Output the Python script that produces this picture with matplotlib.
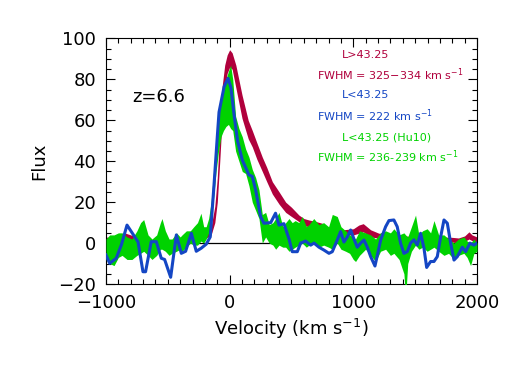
import matplotlib
matplotlib.use("Agg")
import matplotlib.pyplot as plt
from matplotlib.ticker import MultipleLocator

# ---- data ----
red_v = [-1000, -950, -900, -850, -800, -750, -700, -650, -600, -550, -500, -450,
         -400, -350, -300, -250, -200, -150, -120, -100, -80, -60, -40, -20, 0, 20,
         50, 100, 150, 183, 220, 264, 300, 345, 400, 453, 500, 560, 600, 641, 700,
         747, 790, 830, 900, 965, 1000, 1044, 1080, 1140, 1207, 1260, 1300, 1400,
         1500, 1600, 1700, 1800, 1850, 1900, 1935, 1960, 2000]
red_lo = [0.5, 0.0, 0.5, 2.5, 1.5, 0.5, -0.5, -1.0, -1.0, -1.3, -1.0, -1.0,
          -0.5, -0.5, 0.0, 1.0, 2.0, 4.0, 10, 20, 40, 62, 76, 83, 86, 85,
          76, 61, 51, 47, 41, 35, 30, 24, 19, 15, 13, 10.5, 8.5, 8.0, 7.0,
          6.4, 5.0, 3.5, 2.4, 4.0, 4.0, 4.8, 5.5, 3.0, 2.4, 2.4, 1.5, 1.0,
          0.5, 0.5, 0.5, 0.5, 0.0, 0.8, 2.0, 1.2, 0.5]
red_hi = [3.0, 2.5, 3.0, 5.0, 4.0, 3.0, 2.0, 1.5, 1.5, 1.0, 1.5, 1.5,
          2.0, 2.0, 2.5, 3.5, 5.0, 8.0, 18, 32, 55, 77, 87, 92, 94.5, 93,
          87, 72.4, 60, 55, 49, 42, 37, 30, 25, 20, 17.5, 13.7, 12, 11.3, 10.5,
          9.7, 8.0, 6.5, 6.4, 6.8, 7.0, 8.8, 9.5, 6.5, 4.8, 5.0, 4.0, 3.5,
          3.2, 3.0, 3.0, 2.8, 2.5, 3.5, 5.5, 4.0, 3.0]

green_v = [-1000, -970, -935, -900, -870, -830, -790, -750, -720, -695, -660, -628,
           -590, -560, -547, -520, -490, -466, -430, -400, -385, -350, -318, -290,
           -260, -232, -210, -190, -170, -150, -130, -110, -90, -70, -50, -30, -10,
           8, 25, 48, 75, 102, 129, 156, 183, 210, 237, 264, 291, 320, 350, 372,
           399, 430, 453, 480, 506, 530, 560, 587, 620, 641, 680, 722, 760, 800,
           830, 870, 900, 938, 970, 1000, 1018, 1050, 1099, 1140, 1180, 1220, 1261,
           1300, 1328, 1370, 1409, 1423, 1440, 1470, 1503, 1530, 1560, 1597, 1625,
           1652, 1690, 1733, 1770, 1814, 1850, 1894, 1920, 1948, 1975, 2000]
green_lo = [-8, -10, -11, -7, -6, -8, -8, -6, -5, -4, -6, -8,
            -6, -3, -3, -4, -6, -5, -4, -3, -4, -2, 0, -1,
            -1, 1, 0, 2, 5, 10, 22, 35, 45, 52, 55, 57, 58,
            56, 55, 45, 40, 35, 34, 28, 20, 16, 12, 0, 3, 0, -1, -3,
            -1, -2, -2, -4, -3, -2, -1, 0, -2, -1, 0, -2, -1, -2,
            -3, 0, -3, -4, -5, -8, -9, -6, -3, -6, -9, -4, -3,
            -6, -5, -8, -15, -27, -10, -4, -1, -3, -2, -4, -3,
            -2, -4, -6, -5, -8, -6, -5, -7, -11, -5, -4]
green_hi = [2, 4, 4, 5, 5, 3, 2, 6, 10, 11.5, 4, 2,
            4, 10, 12, 6, 2, 2, 5, 3, 4, 6, 6, 8,
            10, 14.6, 8, 8, 12, 20, 35, 50, 62, 70, 75, 80, 84,
            87, 80, 62, 56, 52, 46, 42, 36, 32, 26, 14, 15, 9, 10, 12,
            15, 8, 10, 12, 10, 11, 10, 13, 8, 9, 12, 9, 10, 8,
            14, 13, 8, 6, 4, 3, 2, 6, 5, 4, 2, 5, 6,
            5, 7, 4, 5, 4, 3, 8, 13.7, 4, 6, 7, 5,
            11, 4, 4, 2, 0, 2, 3, 1, 0, 2, 0]

blue_v = [-1000, -970, -917, -876, -830, -768, -741, -701, -680, -634, -593, -553,
          -526, -477, -431, -391, -356, -310, -270, -230, -189, -157, -127, -100,
          -86, -45, -13, 10, 37, 64, 102, 156, 183, 210, 250, 277, 332, 371, 399,
          439, 480, 506, 547, 574, 614, 655, 682, 722, 762, 803, 830, 870, 897,
          924, 951, 978, 1005, 1032, 1059, 1086, 1113, 1140, 1175, 1194, 1221,
          1261, 1288, 1328, 1355, 1382, 1409, 1436, 1463, 1490, 1517, 1544, 1571,
          1593, 1625, 1652, 1679, 1706, 1733, 1760, 1787, 1814, 1841, 1881, 1908,
          1943, 1975, 2000]
blue_f = [-5.8, -9.9, -7.4, -0.9, 8.8, 3.1, 0.6, -14, -14, 0.7, 0.7, -7.4,
          -8, -16.7, 4, -5, -4, 4.8, -4, -2.5, -0.5, 3, 28, 52,
          64, 76.4, 80.5, 76, 62, 50, 40.6, 33.3, 32.6, 26, 13, 9.7, 10, 14.6, 8.8,
          9.5, 2, -4.2, -4.2, 0, 1, -1, 0, -2, -3.4, -5, -4.2, 1.5, 5.6,
          0.5, 3, 6.4, 2, -2, 0, 1.5, -2, -6.6, -11.2, -6, 1.5,
          8, 11, 11.3, 8, 0, -5, -4.2, 0, 1.6, -1, 4.8, -2.4,
          -11.9, -9, -9, -6.6, 3, 11.3, 9.7, 0, -8.3, -6.6, -2, -4.2,
          0, -1, 0]

RED = "#B0003C"
BLUE = "#1446C4"
GREEN = "#00D200"

fig = plt.figure(figsize=(5.31, 3.80), dpi=100)
ax = fig.add_axes([0.1996, 0.2526, 0.6987, 0.6461])

ax.axhline(0, color="black", lw=0.9, zorder=1)
ax.fill_between(red_v, red_lo, red_hi, color=RED, lw=0, zorder=2)
ax.fill_between(green_v, green_lo, green_hi, color=GREEN, lw=0, zorder=3)
ax.plot(blue_v, blue_f, color=BLUE, lw=2.2, zorder=4)

ax.set_xlim(-1000, 2000)
ax.set_ylim(-20, 100)
ax.xaxis.set_major_locator(MultipleLocator(1000))
ax.xaxis.set_minor_locator(MultipleLocator(100))
ax.yaxis.set_major_locator(MultipleLocator(20))
ax.yaxis.set_minor_locator(MultipleLocator(5))
ax.tick_params(which="both", direction="in", top=True, right=True, width=0.8,
               labelsize=13)
ax.tick_params(which="major", length=6.5, pad=7)
ax.tick_params(which="minor", length=3.3)
for s in ax.spines.values():
    s.set_linewidth(0.8)

ax.set_xlabel(r"Velocity (km s$^{-1}$)", fontsize=13, labelpad=4)
ax.set_ylabel("Flux", fontsize=13, labelpad=7)

ax.text(0.072, 0.76, "z=6.6", transform=ax.transAxes, fontsize=13,
        va="center", ha="left")

texts = [
    (342, 55, "L>43.25", RED),
    (317, 75, r"FWHM = 325$-$334 km s$^{-1}$", RED),
    (342, 95, "L<43.25", BLUE),
    (317, 116, r"FWHM = 222 km s$^{-1}$", BLUE),
    (342, 138, "L<43.25 (Hu10)", GREEN),
    (317, 157, r"FWHM = 236-239 km s$^{-1}$", GREEN),
]
for px, py, s, c in texts:
    fig.text(px / 531, 1 - py / 380, s, color=c, fontsize=8, ha="left",
             va="center")

fig.savefig("out.png", dpi=100)
